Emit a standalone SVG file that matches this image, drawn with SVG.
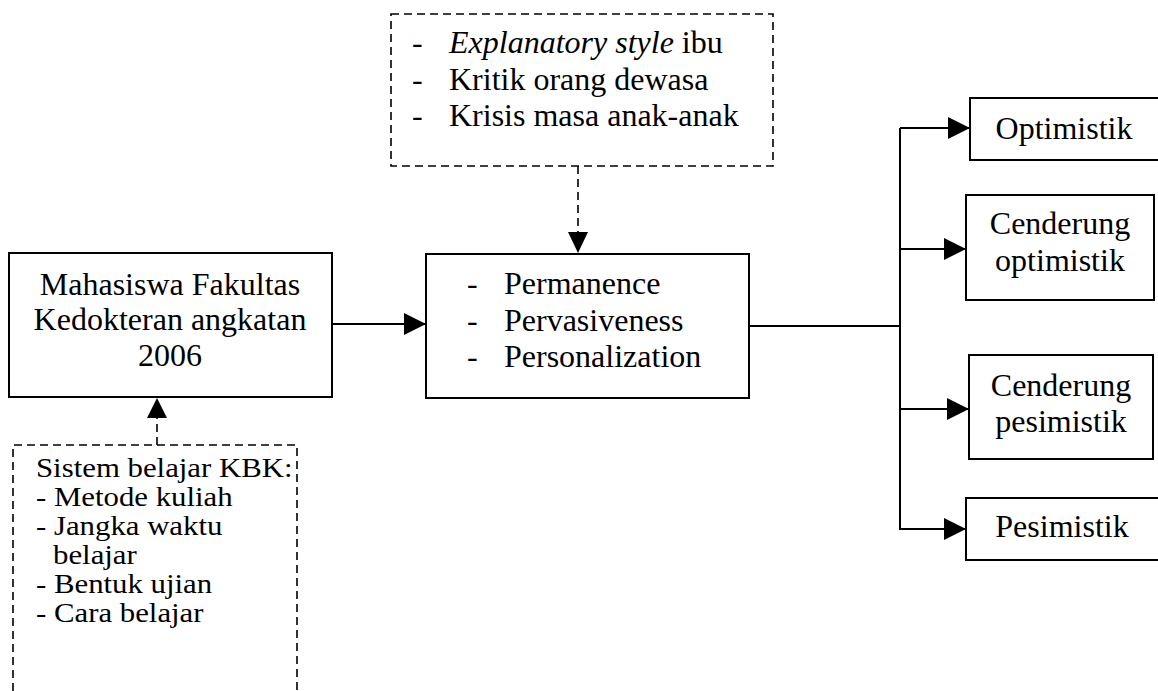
<svg xmlns="http://www.w3.org/2000/svg" width="1158" height="691" viewBox="0 0 1158 691">
<style>
  .box { fill: #fff; stroke: #000; stroke-width: 2; }
  .dbox { fill: none; stroke: #000; stroke-width: 1.6; stroke-dasharray: 8 5; }
  .line { fill: none; stroke: #000; stroke-width: 2; }
  .dline { fill: none; stroke: #000; stroke-width: 1.6; stroke-dasharray: 8 5; }
  text { font-family: "Liberation Serif", "Times New Roman", serif; font-size: 32px; fill: #000; }
  .c { text-anchor: middle; }
  .s { font-size: 28px; }
</style>
<defs>
  <marker id="arr" markerUnits="userSpaceOnUse" markerWidth="22" markerHeight="22" viewBox="0 0 20 20" refX="20" refY="10" orient="auto">
    <path d="M0,0 L20,10 L0,20 Z" fill="#000"/>
  </marker>
</defs>
<rect width="1158" height="691" fill="#fff"/>

<g id="connectors">
  <path class="line" d="M332,324 H426" marker-end="url(#arr)"/>
  <path class="dline" d="M578,166 V232"/>
  <path d="M568,232 L588,232 L578,253 Z" fill="#000"/>
  <path class="dline" d="M157,445 V418"/>
  <path d="M147,418 L167,418 L157,398 Z" fill="#000"/>
  <path class="line" d="M749,326 H900"/>
  <path class="line" d="M900,128 V530"/>
  <path class="line" d="M900,128 H970" marker-end="url(#arr)"/>
  <path class="line" d="M900,249 H966" marker-end="url(#arr)"/>
  <path class="line" d="M900,409 H969" marker-end="url(#arr)"/>
  <path class="line" d="M900,529 H966" marker-end="url(#arr)"/>
</g>

<g id="factors">
  <rect class="dbox" x="391" y="14" width="382" height="152"/>
  <text x="412" y="53">-</text>
  <text x="449" y="53"><tspan font-style="italic">Explanatory style</tspan> ibu</text>
  <text x="412" y="90">-</text>
  <text x="449" y="90">Kritik orang dewasa</text>
  <text x="412" y="126">-</text>
  <text x="449" y="126">Krisis masa anak-anak</text>
</g>

<g id="mahasiswa">
  <rect class="box" x="9" y="253" width="323" height="144"/>
  <text class="c" x="170" y="295">Mahasiswa Fakultas</text>
  <text class="c" x="170" y="330">Kedokteran angkatan</text>
  <text class="c" x="170" y="366">2006</text>
</g>

<g id="dimensions">
  <rect class="box" x="426" y="254" width="323" height="144"/>
  <text x="467" y="294">-</text>
  <text x="504" y="294">Permanence</text>
  <text x="467" y="331">-</text>
  <text x="504" y="331">Pervasiveness</text>
  <text x="467" y="367">-</text>
  <text x="504" y="367">Personalization</text>
</g>

<g id="kbk">
  <path class="dbox" d="M13,691 V445 H297 V691"/>
  <g transform="translate(36,0) scale(1.1,1)">
    <text class="s" x="0" y="477">Sistem belajar KBK:</text>
    <text class="s" x="0" y="506">- Metode kuliah</text>
    <text class="s" x="0" y="535">- Jangka waktu</text>
    <text class="s" x="15.5" y="564">belajar</text>
    <text class="s" x="0" y="593">- Bentuk ujian</text>
    <text class="s" x="0" y="622">- Cara belajar</text>
  </g>
</g>

<g id="optimistik">
  <rect class="box" x="970" y="98" width="200" height="62"/>
  <text class="c" x="1064" y="139">Optimistik</text>
</g>

<g id="cenderung-optimistik">
  <rect class="box" x="966" y="195" width="188" height="105"/>
  <text class="c" x="1060" y="234">Cenderung</text>
  <text class="c" x="1060" y="271">optimistik</text>
</g>

<g id="cenderung-pesimistik">
  <rect class="box" x="969" y="355" width="184" height="104"/>
  <text class="c" x="1061" y="396">Cenderung</text>
  <text class="c" x="1061" y="432">pesimistik</text>
</g>

<g id="pesimistik">
  <rect class="box" x="966" y="498" width="204" height="62"/>
  <text class="c" x="1062" y="537">Pesimistik</text>
</g>
</svg>
